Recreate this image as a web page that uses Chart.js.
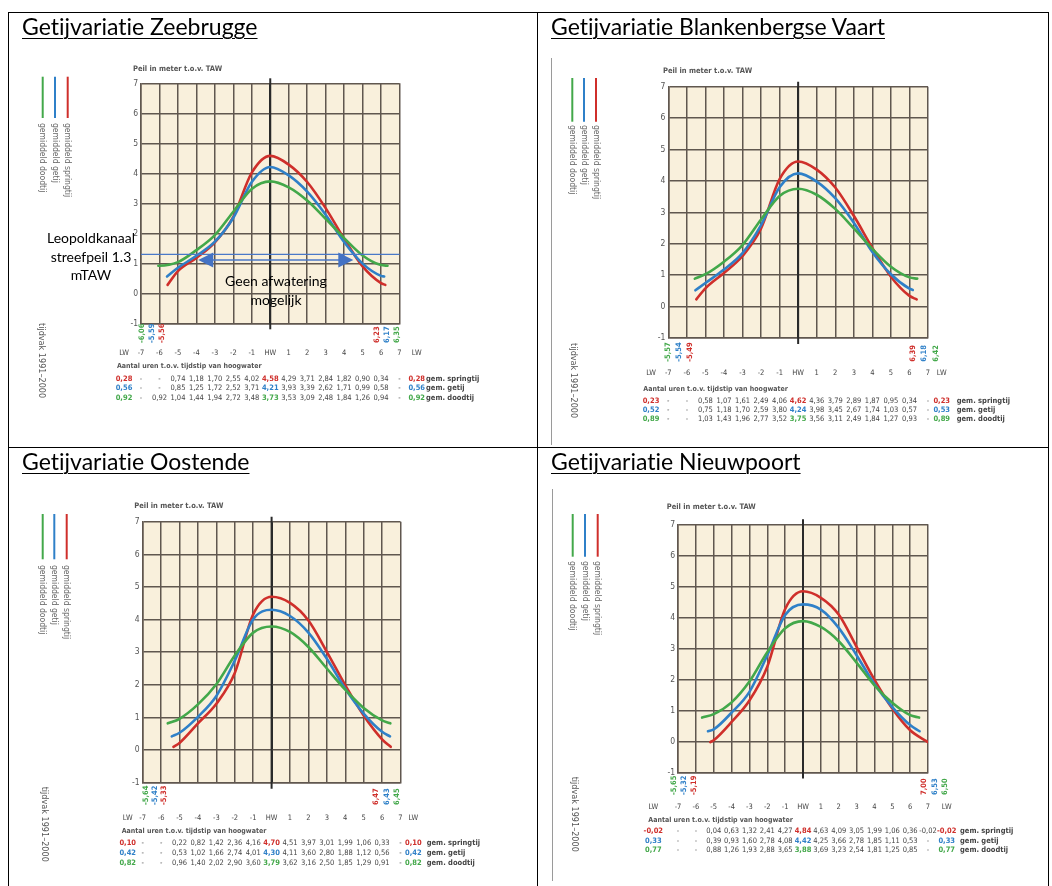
<!DOCTYPE html>
<html>
<head>
<meta charset="utf-8">
<script src="https://cdn.jsdelivr.net/npm/chart.js@4/dist/chart.umd.min.js"></script>
<style>
  body { margin: 0; background: #fff; width: 1052px; height: 886px; overflow: hidden; position: relative; font-family: Lato, "Open Sans", sans-serif; }
  .ln { position: absolute; background: #000; }
  .gray { position: absolute; background: #9a9a9a; width: 1px; }
  canvas { position: absolute; }
  .title { position: absolute; font-size: 23px; line-height: 24px; text-decoration: underline; text-underline-offset: 3px; text-decoration-thickness: 1px; white-space: nowrap; color: #000; font-variant-ligatures: none; }
  .note { position: absolute; font-size: 14px; line-height: 18.5px; text-align: center; white-space: nowrap; color: #000; }
</style>
</head>
<body>
<canvas id="zb" width="527" height="433" style="left:9px;top:13px"></canvas>
<canvas id="bk" width="509" height="433" style="left:538px;top:13px"></canvas>
<canvas id="os" width="527" height="438" style="left:9px;top:448px"></canvas>
<canvas id="np" width="509" height="438" style="left:538px;top:448px"></canvas>

<div class="ln" style="left:8px;top:12px;width:1041px;height:1px"></div>
<div class="ln" style="left:8px;top:447px;width:1041px;height:1px"></div>
<div class="ln" style="left:8px;top:12px;width:1px;height:874px"></div>
<div class="ln" style="left:537px;top:12px;width:1px;height:874px"></div>
<div class="ln" style="left:1048px;top:12px;width:1px;height:874px"></div>
<div class="gray" style="left:551px;top:58px;height:387px"></div>
<div class="gray" style="left:552px;top:489px;height:392px"></div>

<div class="title" style="left:22px;top:14px">Getijvariatie Zeebrugge</div>
<div class="title" style="left:551px;top:14px">Getijvariatie Blankenbergse Vaart</div>
<div class="title" style="left:22px;top:449px">Getijvariatie Oostende</div>
<div class="title" style="left:551px;top:449px">Getijvariatie Nieuwpoort</div>

<div class="note" style="left:36px;top:229px;width:110px">Leopoldkanaal<br>streefpeil 1.3<br>mTAW</div>
<div class="note" style="left:211px;top:272px;width:130px">Geen afwatering<br>mogelijk</div>

<script>
const HOURS = [-7, -6, -5, -4, -3, -2, -1, 0, 1, 2, 3, 4, 5, 6, 7];
const X_LABELS = ["-7", "-6", "-5", "-4", "-3", "-2", "-1", "HW", "1", "2", "3", "4", "5", "6", "7"];
const ROW_NAMES = ["gem. springtij", "gem. getij", "gem. doodtij"];
const LEGEND_NAMES = ["gemiddeld doodtij", "gemiddeld getij", "gemiddeld springtij"];

// Zeebrugge (springtij, getij, doodtij)
const ZB_SPRING = [null, null, 0.74, 1.18, 1.70, 2.55, 4.02, 4.58, 4.29, 3.71, 2.84, 1.82, 0.90, 0.34, null];
const ZB_MEAN = [null, null, 0.85, 1.25, 1.72, 2.52, 3.71, 4.21, 3.93, 3.39, 2.62, 1.71, 0.99, 0.58, null];
const ZB_NEAP = [null, 0.92, 1.04, 1.44, 1.94, 2.72, 3.48, 3.73, 3.53, 3.09, 2.48, 1.84, 1.26, 0.94, null];
const ZB_LW_LEVEL = [[0.28, 0.28], [0.56, 0.56], [0.92, 0.92]];
const ZB_LW_TIME = [[-5.56, 6.23], [-5.59, 6.17], [-6.06, 6.35]];
const ZB_STREEFPEIL = 1.3;

// Blankenbergse Vaart
const BK_SPRING = [null, null, 0.58, 1.07, 1.61, 2.49, 4.06, 4.62, 4.36, 3.79, 2.89, 1.87, 0.95, 0.34, null];
const BK_MEAN = [null, null, 0.75, 1.18, 1.70, 2.59, 3.80, 4.24, 3.98, 3.45, 2.67, 1.74, 1.03, 0.57, null];
const BK_NEAP = [null, null, 1.03, 1.43, 1.96, 2.77, 3.52, 3.75, 3.56, 3.11, 2.49, 1.84, 1.27, 0.93, null];
const BK_LW_LEVEL = [[0.23, 0.23], [0.52, 0.53], [0.89, 0.89]];
const BK_LW_TIME = [[-5.49, 6.39], [-5.54, 6.18], [-5.57, 6.42]];

// Oostende
const OS_SPRING = [null, null, 0.22, 0.82, 1.42, 2.36, 4.16, 4.70, 4.51, 3.97, 3.01, 1.99, 1.06, 0.33, null];
const OS_MEAN = [null, null, 0.53, 1.02, 1.66, 2.74, 4.01, 4.30, 4.11, 3.60, 2.80, 1.88, 1.12, 0.56, null];
const OS_NEAP = [null, null, 0.96, 1.40, 2.02, 2.90, 3.60, 3.79, 3.62, 3.16, 2.50, 1.85, 1.29, 0.91, null];
const OS_LW_LEVEL = [[0.10, 0.10], [0.42, 0.42], [0.82, 0.82]];
const OS_LW_TIME = [[-5.33, 6.47], [-5.42, 6.43], [-5.64, 6.45]];

// Nieuwpoort
const NP_SPRING = [null, null, 0.04, 0.63, 1.32, 2.41, 4.27, 4.84, 4.63, 4.09, 3.05, 1.99, 1.06, 0.36, -0.02];
const NP_MEAN = [null, null, 0.39, 0.93, 1.60, 2.78, 4.08, 4.42, 4.25, 3.66, 2.78, 1.85, 1.11, 0.53, null];
const NP_NEAP = [null, null, 0.88, 1.26, 1.93, 2.88, 3.65, 3.88, 3.69, 3.23, 2.54, 1.81, 1.25, 0.85, null];
const NP_LW_LEVEL = [[-0.02, -0.02], [0.33, 0.33], [0.77, 0.77]];
const NP_LW_TIME = [[-5.19, 7.00], [-5.32, 6.53], [-5.65, 6.50]];

const COLORS = ["#cf2f2b", "#2f80c8", "#43a84a"]; // springtij, getij, doodtij
const CREAM = "#f9f0dc";
const GRID = "#60574f";
const TXT = "#454545";
const NARROW = '"Liberation Sans Narrow", "DejaVu Sans Condensed", Roboto, sans-serif';

function fmt(v) {
  return v === null ? "-" : v.toFixed(2).replace(".", ",");
}

function buildPoints(values, lwLevel, lwTime) {
  const pts = [{ x: lwTime[0], y: lwLevel[0] }];
  HOURS.forEach((h, i) => {
    const v = values[i];
    if (v === null || h <= lwTime[0] || h >= lwTime[1]) return;
    pts.push({ x: h, y: v });
  });
  pts.push({ x: lwTime[1], y: lwLevel[1] });
  return pts;
}

function text(ctx, s, x, y, font, color, align = "left", angle = 0) {
  ctx.save();
  ctx.translate(x, y);
  if (angle) ctx.rotate(angle);
  ctx.font = font;
  ctx.fillStyle = color;
  ctx.textAlign = align;
  ctx.textBaseline = "middle";
  ctx.fillText(s, 0, 0);
  ctx.restore();
}

function arrowHead(ctx, tipX, y, dir) {
  ctx.beginPath();
  ctx.moveTo(tipX, y);
  ctx.lineTo(tipX + dir * 15, y - 7.5);
  ctx.lineTo(tipX + dir * 15, y + 7.5);
  ctx.closePath();
  ctx.fill();
}

function decor(p, st) {
  return {
    id: "decor",
    beforeDraw(chart) {
      const { ctx, chartArea: a } = chart;
      ctx.save();
      ctx.fillStyle = CREAM;
      ctx.fillRect(a.left, a.top, a.right - a.left, a.bottom - a.top);
      ctx.restore();
    },
    beforeDatasetsDraw(chart) {
      const { ctx, chartArea: a, scales } = chart;
      const hx = scales.x.getPixelForValue(0);
      ctx.save();
      ctx.strokeStyle = "#2a2a2a";
      ctx.lineWidth = 2;
      ctx.beginPath();
      ctx.moveTo(hx, a.top - 5);
      ctx.lineTo(hx, a.bottom + 6);
      ctx.stroke();
      ctx.restore();
    },
    afterDatasetsDraw(chart) {
      const { ctx, chartArea: a, scales } = chart;
      const X = (px) => px - p.ox;
      const Y = (py) => py - p.oy;
      const hx = (h) => scales.x.getPixelForValue(h);

      if (st.streefpeil) {
        const yl = scales.y.getPixelForValue(st.streefpeil);
        ctx.save();
        ctx.strokeStyle = "#4a78c8";
        ctx.fillStyle = "#4472c4";
        ctx.lineWidth = 1.3;
        ctx.beginPath();
        ctx.moveTo(a.left, yl);
        ctx.lineTo(a.right, yl);
        ctx.stroke();
        const ya = Y(260);
        const x1 = hx(p.arrow[0]);
        const x2 = hx(p.arrow[1]);
        ctx.beginPath();
        ctx.moveTo(x1 + 10, ya);
        ctx.lineTo(x2 - 10, ya);
        ctx.stroke();
        arrowHead(ctx, x1, ya, 1);
        arrowHead(ctx, x2, ya, -1);
        ctx.restore();
      }

      text(ctx, "Peil in meter t.o.v. TAW", X(p.peil[0]), Y(p.peil[1]), "bold 7.5px " + NARROW, "#555");

      // legend: doodtij, getij, springtij
      const legColors = [COLORS[2], COLORS[1], COLORS[0]];
      p.legendX.forEach((lx, i) => {
        ctx.save();
        ctx.strokeStyle = legColors[i];
        ctx.lineWidth = 2;
        ctx.beginPath();
        ctx.moveTo(X(lx), Y(p.legendY[0]));
        ctx.lineTo(X(lx), Y(p.legendY[1]));
        ctx.stroke();
        ctx.restore();
        text(ctx, LEGEND_NAMES[i], X(lx), Y(p.legendText), "8.5px " + NARROW, "#666", "left", Math.PI / 2);
      });

      text(ctx, "tijdvak 1991\u20132000", X(p.tijdvak[0]), Y(p.tijdvak[1]), "9px " + NARROW, "#555", "left", Math.PI / 2);

      // low water time labels
      const leftOrder = [2, 1, 0];
      const rightOrder = [0, 1, 2];
      p.lwLabL.forEach((lx, i) => {
        const s = leftOrder[i];
        text(ctx, fmt(st.lwTime[s][0]), X(lx), Y(p.lwLabBottom), "bold 7.5px " + NARROW, COLORS[s], "left", -Math.PI / 2);
      });
      p.lwLabR.forEach((lx, i) => {
        const s = rightOrder[i];
        text(ctx, fmt(st.lwTime[s][1]), X(lx), Y(p.lwLabBottom), "bold 7.5px " + NARROW, COLORS[s], "left", -Math.PI / 2);
      });

      // hour row
      const rowFont = "7.5px " + NARROW;
      text(ctx, "LW", X(p.lwCol[0]), Y(p.xRow), rowFont, TXT, "center");
      text(ctx, "LW", X(p.lwCol[1]), Y(p.xRow), rowFont, TXT, "center");
      HOURS.forEach((h, i) => text(ctx, X_LABELS[i], hx(h), Y(p.xRow), rowFont, TXT, "center"));

      text(ctx, "Aantal uren t.o.v. tijdstip van hoogwater", X(p.aantal[0]), Y(p.aantal[1]), "bold 7px " + NARROW, "#555");

      // value table
      st.series.forEach((vals, s) => {
        const ry = Y(p.rows[s]);
        const bold = "bold 7.5px " + NARROW;
        const reg = "7.5px " + NARROW;
        text(ctx, fmt(st.lwLevel[s][0]), X(p.lwCol[0]), ry, bold, COLORS[s], "center");
        HOURS.forEach((h, i) => {
          const isHW = h === 0;
          text(ctx, fmt(vals[i]), hx(h), ry, isHW ? bold : reg, isHW ? COLORS[s] : TXT, "center");
        });
        text(ctx, fmt(st.lwLevel[s][1]), X(p.lwCol[1]), ry, bold, COLORS[s], "center");
        text(ctx, ROW_NAMES[s], X(p.gem), ry, "bold 7.5px " + NARROW, "#444");
      });
    },
  };
}

function makeChart(id, p, st) {
  const order = [2, 1, 0];
  const datasets = order.map((s) => ({
    data: buildPoints(st.series[s], st.lwLevel[s], st.lwTime[s]),
    borderColor: COLORS[s],
    borderWidth: 2.6,
    showLine: true,
    pointRadius: 0,
    cubicInterpolationMode: "monotone",
    borderCapStyle: "round",
    fill: false,
  }));
  new Chart(document.getElementById(id), {
    type: "scatter",
    data: { datasets },
    options: {
      responsive: false,
      animation: false,
      devicePixelRatio: 1,
      events: [],
      layout: {
        padding: {
          left: 0,
          top: p.plot[1] - p.oy,
          right: p.ox + p.w - p.plot[2],
          bottom: p.oy + p.h - p.plot[3],
        },
      },
      plugins: { legend: { display: false }, tooltip: { enabled: false } },
      scales: {
        x: {
          type: "linear",
          min: -7,
          max: 7,
          ticks: { stepSize: 1, display: false },
          grid: {
            color: (c) => (c.tick && c.tick.value === 0 ? "#2a2a2a" : GRID),
            lineWidth: (c) => (c.tick && c.tick.value === 0 ? 2 : 1.5),
            drawTicks: false,
          },
          border: { color: GRID, width: 1.5 },
          afterFit: (s) => { s.height = 0; },
        },
        y: {
          min: -1,
          max: 7,
          ticks: { stepSize: 1, padding: 3, color: "#555", font: { family: NARROW, size: 8.5 } },
          grid: { color: GRID, lineWidth: 1.5, drawTicks: false },
          border: { color: GRID, width: 1.5 },
          afterFit: (s) => { s.width = p.plot[0] - p.ox; },
        },
      },
    },
    plugins: [decor(p, st)],
  });
}

makeChart("zb", {
  ox: 9, oy: 13, w: 527, h: 433, plot: [141, 83.3, 399.5, 323.3], peil: [133, 69],
  legendX: [42.7, 55, 67.7], legendY: [76.7, 118], legendText: 123, tijdvak: [41, 323],
  lwLabL: [141.7, 151.7, 161.7], lwLabR: [376.7, 386.7, 396.7], lwLabBottom: 343,
  xRow: 353, lwCol: [124, 416.7], aantal: [117, 366], rows: [379, 388.3, 397.6], gem: 426,
  arrow: [-3.9, 4.5],
}, { series: [ZB_SPRING, ZB_MEAN, ZB_NEAP], lwLevel: ZB_LW_LEVEL, lwTime: ZB_LW_TIME, streefpeil: ZB_STREEFPEIL });

makeChart("bk", {
  ox: 538, oy: 13, w: 509, h: 433, plot: [668.3, 86.7, 928, 338], peil: [663, 70.7],
  legendX: [572.3, 584, 596], legendY: [78, 121.7], legendText: 125, tijdvak: [573, 343],
  lwLabL: [668, 679.3, 690.3], lwLabR: [912.7, 924, 935.7], lwLabBottom: 361.7,
  xRow: 373.3, lwCol: [651, 941.7], aantal: [643.3, 389], rows: [400.7, 410, 418.6], gem: 956.7,
}, { series: [BK_SPRING, BK_MEAN, BK_NEAP], lwLevel: BK_LW_LEVEL, lwTime: BK_LW_TIME });

makeChart("os", {
  ox: 9, oy: 448, w: 527, h: 438, plot: [142.7, 521.7, 400.5, 782.7], peil: [134.3, 505.7],
  legendX: [42.7, 54.3, 66.7], legendY: [514, 559.3], legendText: 565, tijdvak: [44, 786.7],
  lwLabL: [146, 155, 164], lwLabR: [376, 386.7, 397.3], lwLabBottom: 805,
  xRow: 818.3, lwCol: [127.7, 413.3], aantal: [121.7, 831], rows: [843.3, 853, 862.7], gem: 426.7,
}, { series: [OS_SPRING, OS_MEAN, OS_NEAP], lwLevel: OS_LW_LEVEL, lwTime: OS_LW_TIME });

makeChart("np", {
  ox: 538, oy: 448, w: 509, h: 438, plot: [678, 524.3, 928, 772.5], peil: [666.7, 506.7],
  legendX: [572.7, 585, 597.7], legendY: [514, 556.7], legendText: 561, tijdvak: [574, 776.7],
  lwLabL: [674, 684.3, 694.3], lwLabR: [924, 934.7, 945.3], lwLabBottom: 795,
  xRow: 806.7, lwCol: [653.3, 946.7], aantal: [648.3, 820], rows: [830.7, 840.7, 850], gem: 960,
}, { series: [NP_SPRING, NP_MEAN, NP_NEAP], lwLevel: NP_LW_LEVEL, lwTime: NP_LW_TIME });
</script>
</body>
</html>
